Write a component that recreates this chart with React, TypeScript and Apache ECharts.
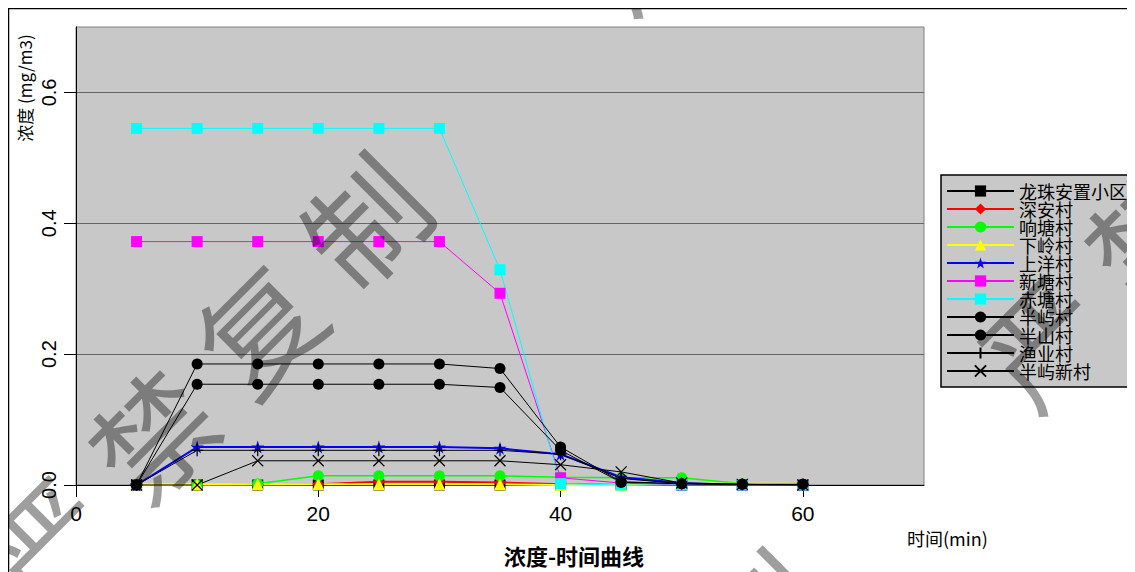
import React, { useEffect, useRef } from "react";
import * as echarts from "echarts";

const times = [5, 10, 15, 20, 25, 30, 35, 40, 45, 50, 55, 60];
const xTicks = [0, 20, 40, 60];
const yTicks = [0, 0.2, 0.4, 0.6];

const seriesNames = ["龙珠安置小区", "深安村", "响塘村", "下岭村", "上洋村", "新塘村", "赤塘村", "半屿村", "半山村", "渔业村", "半屿新村"];
const longzhu = [0, 0, 0, 0, 0, 0, 0, 0, 0, 0, 0, 0];
const shenan = [0, 0, 0, 0.001, 0.005, 0.005, 0.004, 0.001, 0, 0, 0, 0.002];
const xiangtang = [0, 0, 0.002, 0.014, 0.014, 0.014, 0.014, 0.012, 0.011, 0.011, 0.002, 0];
const xialing = [0.001, 0.001, 0.001, 0.001, 0.001, 0.001, 0.001, 0, 0, 0.002, 0.002, 0.002];
const shangyang = [0, 0.058, 0.058, 0.058, 0.058, 0.058, 0.056, 0.047, 0.012, 0.003, 0, 0];
const xintang = [0.372, 0.372, 0.372, 0.372, 0.372, 0.372, 0.293, 0.011, 0.003, 0, 0, 0];
const chitang = [0.545, 0.545, 0.545, 0.545, 0.545, 0.545, 0.329, 0.002, 0, 0, 0, 0];
const banyu = [0, 0.185, 0.185, 0.185, 0.185, 0.185, 0.178, 0.058, 0.005, 0.002, 0.001, 0.001];
const banshan = [0, 0.154, 0.154, 0.154, 0.154, 0.154, 0.149, 0.053, 0.004, 0.002, 0.001, 0.001];
const yuye = [0, 0.053, 0.053, 0.053, 0.053, 0.053, 0.053, 0.047, 0.01, 0.002, 0.001, 0];
const banyuxin = [0, 0, 0.037, 0.037, 0.037, 0.037, 0.037, 0.031, 0.02, 0.003, 0.001, 0];

const seriesValues = [longzhu, shenan, xiangtang, xialing, shangyang, xintang, chitang, banyu, banshan, yuye, banyuxin];

const STAR = "path://M50,0L61,35L98,35L68,57L79,91L50,70L21,91L32,57L2,35L39,35Z";
const PLUS = "path://M5,0L5,10M0,5L10,5";
const CROSS = "path://M0,0L10,10M10,0L0,10";

const styles = [
  { color: "#000000", symbol: "rect", size: 11, width: 1 },
  { color: "#ff0000", symbol: "diamond", size: 12, width: 2 },
  { color: "#00ff00", symbol: "circle", size: 11, width: 1.5 },
  { color: "#ffff00", symbol: "triangle", size: 12, width: 2 },
  { color: "#0000ff", symbol: STAR, size: 13, width: 2 },
  { color: "#ff00ff", symbol: "rect", size: 11, width: 1 },
  { color: "#00ffff", symbol: "rect", size: 11, width: 1 },
  { color: "#000000", symbol: "circle", size: 11, width: 1 },
  { color: "#000000", symbol: "circle", size: 11, width: 1 },
  { color: "#000000", symbol: PLUS, size: 12, width: 1, stroke: true },
  { color: "#000000", symbol: CROSS, size: 11, width: 1, stroke: true },
];

const CJK = "'Noto Sans CJK SC', sans-serif";
const NUM = "'Liberation Sans Narrow', 'Liberation Sans', Arial, sans-serif";

function wmChars(chars: string[], start: [number, number]) {
  return chars.map((c, i) => ({
    type: "text",
    x: start[0] + i * 106,
    y: start[1] - i * 107,
    rotation: Math.PI / 4,
    silent: true,
    z: 100,
    style: {
      text: c,
      fontSize: 120,
      fontWeight: "normal",
      fontFamily: CJK,
      fill: "rgba(0,0,0,0.38)",
      align: "center",
      verticalAlign: "middle",
    },
  }));
}

export default function App() {
  const ref = useRef<HTMLDivElement>(null);
  useEffect(() => {
    if (!ref.current) return;
    const chart = echarts.init(ref.current, null, { renderer: "svg" });
    const series = seriesNames.map((name, i) => {
      const s = styles[i];
      return {
        name,
        type: "line",
        data: times.map((t, j) => [t, seriesValues[i][j]]),
        symbol: s.symbol,
        symbolSize: s.size,
        showSymbol: true,
        lineStyle: { color: s.color, width: s.width },
        itemStyle: s.stroke
          ? { color: "none", borderColor: s.color, borderWidth: 1.2 }
          : { color: s.color, borderWidth: 0 },
        emphasis: { disabled: true },
      };
    });
    chart.setOption({
      animation: false,
      backgroundColor: "#ffffff",
      grid: {
        left: 68,
        top: 19,
        width: 848,
        height: 458,
        show: true,
        backgroundColor: "#c8c8c8",
        borderColor: "#808080",
        borderWidth: 1,
      },
      xAxis: {
        type: "value",
        min: 0,
        max: 70,
        interval: 20,
        axisLine: { show: true, onZero: false, lineStyle: { color: "#000", width: 1 } },
        axisTick: { show: true, length: 12, customValues: xTicks, lineStyle: { color: "#000" } },
        axisLabel: {
          customValues: xTicks,
          margin: 18,
          color: "#000",
          fontSize: 21,
          fontFamily: NUM,
        },
        splitLine: { show: false },
      },
      yAxis: {
        type: "value",
        min: 0,
        max: 0.7,
        interval: 0.2,
        axisLine: { show: true, onZero: false, lineStyle: { color: "#000", width: 1 } },
        axisTick: { show: true, length: 12, customValues: yTicks, lineStyle: { color: "#000" } },
        axisLabel: {
          customValues: yTicks,
          rotate: 90,
          margin: 17,
          color: "#000",
          fontSize: 20,
          fontFamily: NUM,
          formatter: (v: number) => v.toFixed(1),
        },
        splitLine: { show: true, lineStyle: { color: "#666666", width: 1 } },
      },
      legend: {
        show: true,
        orient: "vertical",
        left: 933,
        top: 167,
        itemWidth: 67,
        itemHeight: 14,
        itemGap: 0,
        padding: [7, 7, 7, 5],
        backgroundColor: "#c8c8c8",
        borderColor: "#000",
        borderWidth: 1.5,
        selectedMode: false,
        textStyle: { fontSize: 18, lineHeight: 18, color: "#000", fontFamily: CJK },
        data: seriesNames,
      },
      series,
      graphic: [
        {
          type: "rect",
          silent: true,
          shape: { x: 0.5, y: 0.5, width: 1200, height: 700 },
          style: { fill: "none", stroke: "#000", lineWidth: 1.5 },
          z: 50,
        },
        {
          type: "text",
          x: 16,
          y: 80,
          rotation: Math.PI / 2,
          style: {
            text: "浓度 (mg/m3)",
            fontSize: 17,
            fontFamily: CJK,
            fill: "#000",
            align: "center",
            verticalAlign: "middle",
          },
        },
        {
          type: "text",
          x: 899,
          y: 530,
          style: {
            text: "时间(min)",
            fontSize: 18,
            fontFamily: CJK,
            fill: "#000",
            align: "left",
            verticalAlign: "middle",
          },
        },
        {
          type: "text",
          x: 566,
          y: 547,
          style: {
            text: "浓度-时间曲线",
            fontSize: 22,
            fontWeight: "bold",
            fontFamily: CJK,
            fill: "#000",
            align: "center",
            verticalAlign: "middle",
          },
        },
        ...wmChars(["严", "禁", "复", "制"], [36, 531]),
        ...wmChars(["严", "禁", "复", "制"], [1032, 330]),
        ...wmChars(["制"], [752, 607]),
        ...wmChars(["严"], [627, -68]),
      ],
    });
    return () => chart.dispose();
  }, []);
  return <div ref={ref} style={{ width: 1127, height: 564 }} />;
}
